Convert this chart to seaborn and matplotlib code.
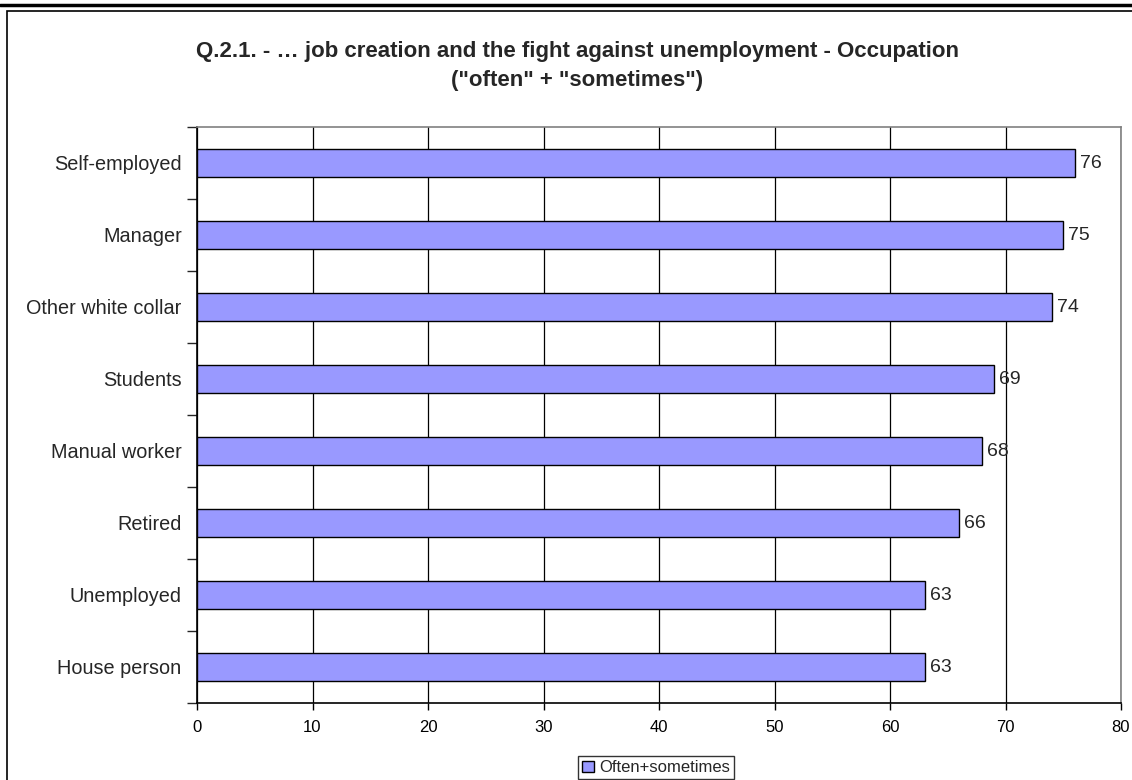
import numpy as np
import pandas as pd
import matplotlib.pyplot as plt
import seaborn as sns
from matplotlib.patches import Rectangle
from matplotlib.lines import Line2D

categories = ["Self-employed", "Manager", "Other white collar", "Students",
              "Manual worker", "Retired", "Unemployed", "House person"]
values = [76, 75, 74, 69, 68, 66, 63, 63]
series_name = "Often+sometimes"
title = 'Q.2.1. - … job creation and the fight against unemployment - Occupation\n("often" + "sometimes")'

sns.set_style("white")
plt.rcParams["font.family"] = ["Liberation Sans", "DejaVu Sans"]

df = pd.DataFrame({"cat": categories, "val": values, "series": series_name})

W, H = 1132, 780
fig = plt.figure(figsize=(W / 100, H / 100), dpi=100)
ax = fig.add_axes([197 / W, 1 - 703 / H, (1121 - 197) / W, (703 - 127) / H])

sns.barplot(data=df, y="cat", x="val", hue="series", orient="h",
            palette=["#9999FF"], saturation=1, edgecolor="black", linewidth=1,
            width=0.39, ax=ax, zorder=3)

ax.set_xlim(0, 80)
ax.set_ylim(7.5, -0.5)
ax.set_xticks(np.arange(0, 81, 10))
ax.xaxis.grid(True, color="black", linewidth=0.9, zorder=0)
ax.set_axisbelow(True)
ax.set_xlabel("")
ax.set_ylabel("")
ax.tick_params(axis="x", direction="out", length=5, width=1, labelsize=12,
               bottom=True, colors="black", pad=7)
ax.set_yticks(range(len(categories)))
ax.set_yticklabels(categories, fontsize=14.3)
ax.tick_params(axis="y", which="major", length=0, pad=11)
# small ticks between the categories
ax.set_yticks(np.arange(-0.5, len(categories), 1.0), minor=True)
ax.tick_params(axis="y", which="minor", direction="out", length=7, width=1, left=True)

for side in ["left", "bottom"]:
    ax.spines[side].set_color("black")
    ax.spines[side].set_linewidth(1.2)
for side in ["top", "right"]:
    ax.spines[side].set_visible(True)
    ax.spines[side].set_color("#808080")
    ax.spines[side].set_linewidth(1.2)

for c in ax.containers:
    ax.bar_label(c, labels=[str(v) for v in values], padding=3.5, fontsize=14)

ax.legend_.remove()
handle = Rectangle((0, 0), 1, 1, facecolor="#9999FF", edgecolor="black", linewidth=1)
fig.legend([handle], [series_name], loc="upper left", bbox_to_anchor=(578 / W, 1 - 756 / H),
           frameon=True, fancybox=False, edgecolor="black", fontsize=12,
           handlelength=0.7, handleheight=0.7, handletextpad=0.3,
           borderpad=0.25, borderaxespad=0)

fig.text(577 / W, 1 - 66 / H, title, ha="center", va="center",
         fontsize=16, fontweight="bold", linespacing=1.45)

# outer frame and double top rule
fig.patches.append(Rectangle((7 / W, -0.01), 1.1, 1 - 11 / H + 0.01,
                             transform=fig.transFigure, fill=False,
                             edgecolor="black", linewidth=1.2))
fig.lines.append(Line2D([0, 1], [1 - 5 / H, 1 - 5 / H], transform=fig.transFigure,
                        color="black", linewidth=2.5))

fig.savefig("out.png", dpi=100)
